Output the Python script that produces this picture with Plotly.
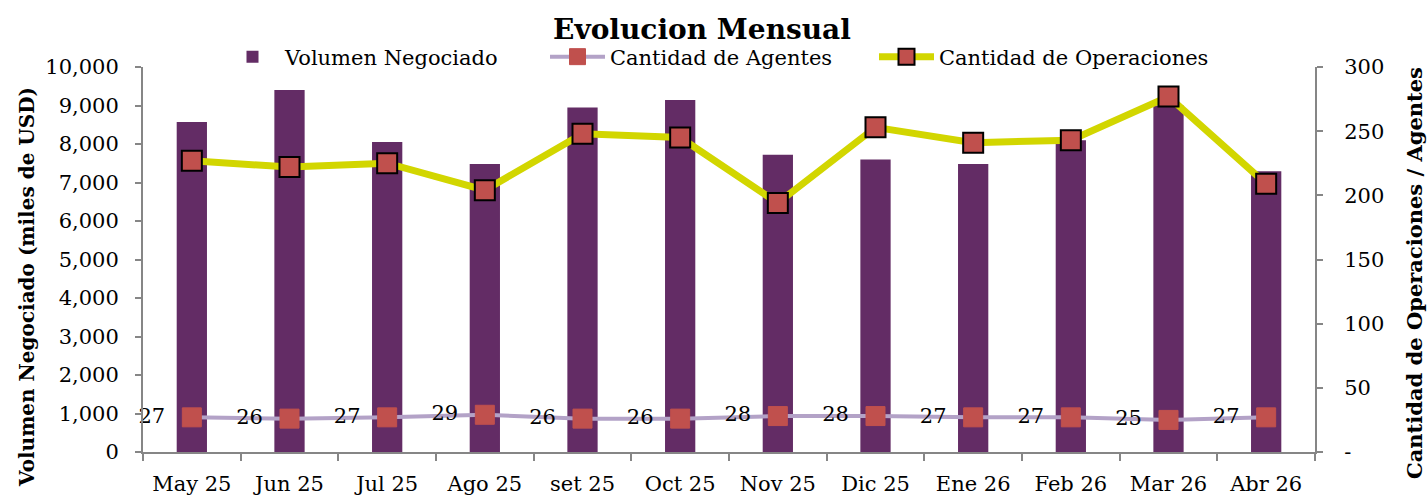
import plotly.graph_objects as go

meses = ["May 25", "Jun 25", "Jul 25", "Ago 25", "set 25", "Oct 25",
         "Nov 25", "Dic 25", "Ene 26", "Feb 26", "Mar 26", "Abr 26"]
volumen = [8570, 9400, 8050, 7480, 8950, 9140, 7720, 7600, 7480, 8100, 9000, 7290]
agentes = [27, 26, 27, 29, 26, 26, 28, 28, 27, 27, 25, 27]
operaciones = [227, 222, 225, 204, 248, 245, 194, 253, 241, 243, 277, 209]

y2_vals = [0, 50, 100, 150, 200, 250, 300]
y2_text = ["-", "50", "100", "150", "200", "250", "300"]

FONT = "DejaVu Serif"
AX = "#868686"
W, H = 1428, 495
L, R, T, B = 143, 113, 67, 43
PW, PH = W - L - R, H - T - B


def px(x):
    return (x - L) / PW


def py(y):
    return (H - B - y) / PH


fig = go.Figure()
fig.add_trace(go.Bar(
    x=meses, y=volumen, name="Volumen Negociado",
    marker=dict(color="#632C65", line=dict(width=0)),
    width=0.31, yaxis="y", legend="legend"))
fig.add_trace(go.Scatter(
    x=meses, y=agentes, name="Cantidad de Agentes", yaxis="y2",
    mode="lines+markers",
    line=dict(color="#B3A2C7", width=4),
    marker=dict(symbol="square", size=19, color="#C0504D",
                line=dict(color="#C0504D", width=1)),
    cliponaxis=False, legend="legend2"))
fig.add_trace(go.Scatter(
    x=meses, y=agentes, yaxis="y2", showlegend=False, hoverinfo="skip",
    mode="markers+text", text=[str(a) for a in agentes],
    textposition="middle left", textfont=dict(size=21, color="black", family=FONT),
    marker=dict(symbol="square", size=41, color="rgba(0,0,0,0)"),
    cliponaxis=False))
fig.add_trace(go.Scatter(
    x=meses, y=operaciones, name="Cantidad de Operaciones", yaxis="y2",
    mode="lines+markers",
    line=dict(color="#D2D600", width=7),
    marker=dict(symbol="square", size=20, color="#C0504D",
                line=dict(color="black", width=2)),
    cliponaxis=False, legend="legend3"))

leg = dict(orientation="h", xanchor="left", y=py(57), yanchor="middle",
           font=dict(size=21, family=FONT), itemwidth=55,
           bgcolor="rgba(0,0,0,0)")

fig.update_layout(
    width=W, height=H,
    margin=dict(l=L, r=R, t=T, b=B, autoexpand=False),
    paper_bgcolor="white", plot_bgcolor="white",
    font=dict(family=FONT, size=21, color="black"),
    title=dict(text="<b>Evolucion Mensual</b>", x=702 / W, xanchor="center",
               y=1 - 29 / H, yanchor="middle",
               font=dict(size=28, family=FONT, color="black")),
    showlegend=True,
    legend=dict(leg, x=px(220)),
    legend2=dict(leg, x=px(545)),
    legend3=dict(leg, x=px(874)),
    xaxis=dict(range=[-0.5, len(meses) - 0.5], showline=True, linecolor=AX,
               linewidth=2, ticks="outside",
               tickson="boundaries", ticklen=7, tickcolor=AX, tickwidth=2,
               showgrid=False, tickfont=dict(size=21, family=FONT),
               ticklabelstandoff=12),
    yaxis=dict(range=[0, 10000], dtick=1000, tickformat=",", showline=True,
               linecolor=AX, linewidth=2, ticks="outside", ticklen=6,
               tickcolor=AX, tickwidth=2, showgrid=False, zeroline=False,
               ticklabelstandoff=12, tickfont=dict(size=21, family=FONT),
               automargin=False),
    yaxis2=dict(range=[0, 300], tickvals=y2_vals, ticktext=y2_text,
                overlaying="y", side="right", showline=True, linecolor=AX,
                linewidth=2, ticks="outside", ticklen=6, tickcolor=AX,
                tickwidth=2, showgrid=False, zeroline=False,
                ticklabelstandoff=17, tickfont=dict(size=21, family=FONT),
                automargin=False),
    annotations=[
        dict(text="<b>Volumen Negociado (miles de USD)</b>", textangle=-90,
             xref="paper", yref="paper", x=px(27), y=py(287),
             xanchor="center", yanchor="middle", showarrow=False,
             font=dict(size=20, family=FONT, color="black")),
        dict(text="<b>Cantidad de Operaciones / Agentes</b>", textangle=-90,
             xref="paper", yref="paper", x=px(1414), y=py(273),
             xanchor="center", yanchor="middle", showarrow=False,
             font=dict(size=21, family=FONT, color="black")),
    ],
)

fig.write_html("out.html", config={"displayModeBar": False}, post_script=(
    "document.body.style.margin='0';document.body.style.padding='0';"
    "document.body.style.overflow='hidden';"))
